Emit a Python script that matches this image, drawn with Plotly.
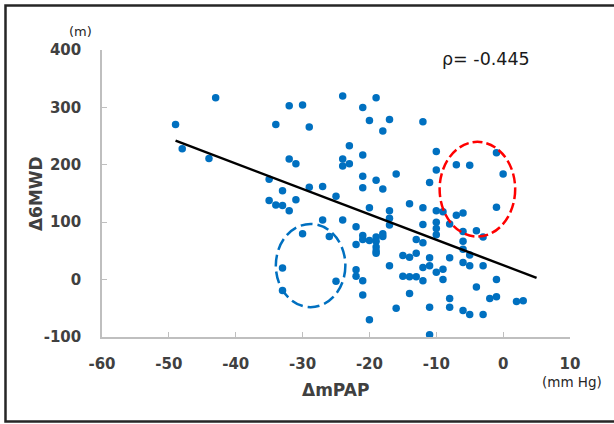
import plotly.graph_objects as go

# Data
delta_mpap = [-49, -48, -43, -44, -35, -35, -34, -34, -33, -33, -33, -33, -32, -32, -32, -31, -31,
              -30, -30, -29, -29, -27, -27, -26, -25, -25, -24, -24, -24, -24, -23, -23, -22, -22,
              -22, -22, -21, -21, -21, -21, -21, -21, -21, -21, -20, -20, -20, -20, -19, -19, -19,
              -19, -19, -19, -19, -18, -18, -18, -18, -17, -17, -17, -17, -17, -16, -16, -15, -15,
              -14, -14, -14, -14, -13, -13, -13, -12, -12, -12, -12, -12, -12, -11, -11, -11, -11,
              -11, -10, -10, -10, -10, -10, -10, -10, -9, -9, -9, -8, -8, -8, -8, -7, -7, -6, -6,
              -6, -6, -6, -6, -5, -5, -5, -5, -4, -4, -3, -3, -3, -2, -1, -1, -1, -1, 0, 2, 3]
delta_6mwd = [270, 228, 317, 211, 175, 138, 270, 130, 155, 129, 20, -19, 303, 210, 120, 202, 139,
              304, 80, 266, 161, 162, 104, 75, 145, -3, 320, 210, 198, 104, 233, 202, 92, 61,
              17, 6, 300, 217, 180, 160, 77, 70, -2, -27, 277, 125, 68, -70, 317, 173, 74,
              67, 57, 50, 46, 259, 158, 80, 75, 279, 120, 107, 95, 24, 184, -50, 42, 6,
              132, 39, 5, -24, 70, 46, 5, 275, 125, 96, 64, 21, -2, 169, 38, 24, -48,
              -96, 223, 191, 120, 100, 89, 78, 13, 118, 18, 0, 97, 38, -33, -48, 200, 112, 116, 84,
              67, 53, 30, -54, 199, 43, 24, -61, 85, -13, 74, 24, -61, -33, 221, 126, 0, -30, 184, -38, -37]

trend_x = [-49, 5]
trend_y = [242, 3]

x_ticks = [-60, -50, -40, -30, -20, -10, 0, 10]
y_ticks = [-100, 0, 100, 200, 300, 400]

blue_ellipse = dict(x0=-34.0, x1=-23.6, y0=-48, y1=97)
red_ellipse = dict(x0=-9.5, x1=1.8, y0=75, y1=240)

BLUE = "#0070C0"
AXIS = "#BFBFBF"
TXT = "#404040"
FONT = "DejaVu Sans"

fig = go.Figure()
fig.add_trace(go.Scatter(x=delta_mpap, y=delta_6mwd, mode="markers",
                         marker=dict(color=BLUE, size=7.5, line=dict(width=0)),
                         showlegend=False, hoverinfo="skip"))
fig.add_trace(go.Scatter(x=trend_x, y=trend_y, mode="lines",
                         line=dict(color="black", width=2.5),
                         showlegend=False, hoverinfo="skip"))

fig.add_shape(type="circle", xref="x", yref="y", **blue_ellipse,
              line=dict(color=BLUE, width=2.5, dash="12px,5px"))
fig.add_shape(type="circle", xref="x", yref="y", **red_ellipse,
              line=dict(color="#FF0000", width=2.5, dash="10px,4px"))

# outer frame
fig.add_shape(type="rect", xref="paper", yref="paper",
              x0=-0.2062, x1=1.106, y0=-0.2944, y1=1.155,
              line=dict(color="#262626", width=2.5), layer="above")

fig.update_layout(
    width=614, height=424,
    margin=dict(l=102, r=44, t=50, b=87),
    paper_bgcolor="white", plot_bgcolor="white",
    font=dict(family=FONT, color=TXT),
    xaxis=dict(range=[-60, 10], tickvals=x_ticks, ticktext=[str(v) for v in x_ticks],
               showgrid=False, zeroline=False, showline=True, linecolor=AXIS, linewidth=1.5,
               ticks="inside", ticklen=5, tickcolor=AXIS, tickwidth=1.2,
               tickfont=dict(family=FONT, size=15, color=TXT, weight="bold"),
               ticklabelstandoff=12),
    yaxis=dict(range=[-100, 400], tickvals=y_ticks, ticktext=[str(v) for v in y_ticks],
               showgrid=False, zeroline=False, showline=True, linecolor=AXIS, linewidth=1.5,
               ticks="inside", ticklen=5, tickcolor=AXIS, tickwidth=1.2,
               tickfont=dict(family=FONT, size=15, color=TXT, weight="bold"),
               ticklabelstandoff=16),
    annotations=[
        dict(text="Δ6MWD", xref="paper", yref="paper", x=-0.141, y=0.498, textangle=-90,
             showarrow=False, xanchor="center", yanchor="middle",
             font=dict(family=FONT, size=17, color=TXT, weight="bold")),
        dict(text="ΔmPAP", xref="paper", yref="paper", x=0.499, y=-0.1847,
             showarrow=False, xanchor="center", yanchor="middle",
             font=dict(family=FONT, size=17, color=TXT, weight="bold")),
        dict(text="(m)", xref="paper", yref="paper", x=-0.0457, y=1.066,
             showarrow=False, xanchor="center", yanchor="middle",
             font=dict(family=FONT, size=13, color="#262626")),
        dict(text="(mm Hg)", xref="paper", yref="paper", x=1.0053, y=-0.1568,
             showarrow=False, xanchor="center", yanchor="middle",
             font=dict(family=FONT, size=13.5, color="#262626")),
        dict(text="ρ= -0.445", xref="paper", yref="paper", x=0.8205, y=0.968,
             showarrow=False, xanchor="center", yanchor="middle",
             font=dict(family=FONT, size=17.5, color="#1a1a1a")),
    ],
)

fig.write_html("out.html", config={"displayModeBar": False},
               post_script="document.body.style.margin='0';document.body.style.overflow='hidden';")
